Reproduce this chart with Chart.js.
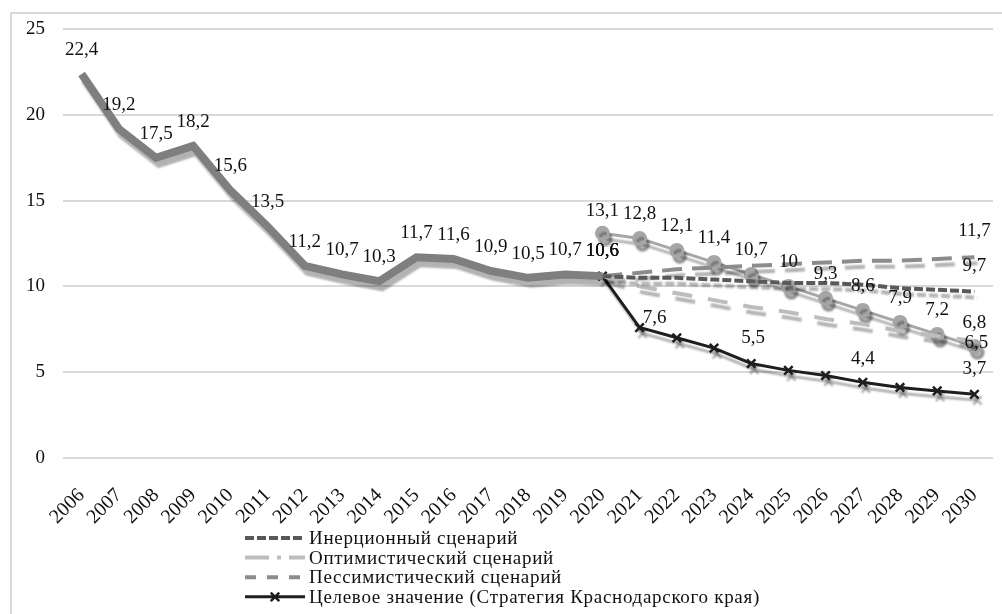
<!DOCTYPE html>
<html>
<head>
<meta charset="utf-8">
<script src="https://cdn.jsdelivr.net/npm/chart.js@4.4.1/dist/chart.umd.min.js"></script>
<style>
  html, body { margin: 0; padding: 0; background: #fff; }
  #wrap { position: relative; width: 1002px; height: 614px; overflow: hidden; }
  #frame { position: absolute; left: 10px; top: 12px; width: 1100px; height: 700px;
           border-left: 2px solid #d9d9d9; border-top: 2px solid #d9d9d9; }
  canvas { position: absolute; left: 0; top: 0; }
</style>
</head>
<body>
<div id="wrap">
  <div id="frame"></div>
  <canvas id="chart" width="1002" height="614"></canvas>
</div>
<script>
// Years on the x axis
const years = ['2006', '2007', '2008', '2009', '2010', '2011', '2012', '2013', '2014',
  '2015', '2016', '2017', '2018', '2019', '2020', '2021', '2022', '2023', '2024',
  '2025', '2026', '2027', '2028', '2029', '2030'];

// Actual values 2006–2020
const actual = [22.4, 19.2, 17.5, 18.2, 15.6, 13.5, 11.2, 10.7, 10.3, 11.7, 11.6, 10.9, 10.5, 10.7, 10.6];

// Forecasts 2020–2030
const inertial    = [10.6, 10.5, 10.5, 10.4, 10.3, 10.2, 10.2, 10.1, 9.9, 9.8, 9.7];
const optimistic  = [10.6, 10.0, 9.6, 9.2, 8.8, 8.5, 8.1, 7.8, 7.4, 7.1, 6.8];
const pessimistic = [10.6, 10.8, 11.0, 11.1, 11.2, 11.3, 11.4, 11.5, 11.5, 11.6, 11.7];
const target      = [10.6, 7.6, 7.0, 6.4, 5.5, 5.1, 4.8, 4.4, 4.1, 3.9, 3.7];
const trend       = [13.1, 12.8, 12.1, 11.4, 10.7, 10.0, 9.3, 8.6, 7.9, 7.2, 6.5];

const yTicks = [0, 5, 10, 15, 20, 25];

const legendNames = [
  'Инерционный сценарий',
  'Оптимистический сценарий',
  'Пессимистический сценарий',
  'Целевое значение (Стратегия Краснодарского края)',
];

const SERIF = '"Liberation Serif", "Times New Roman", serif';
const forecastStart = years.indexOf('2020');

// Place a short series onto the full year axis.
function onAxis(values, start) {
  const out = years.map(() => null);
  values.forEach((v, i) => { out[start + i] = v; });
  return out;
}

const fmt = (v) => String(v).replace('.', ',');

// Offset shadow under every line, as in the original.
const lineShadow = {
  id: 'lineShadow',
  beforeDatasetDraw(chart) {
    const ctx = chart.ctx;
    ctx.save();
    ctx.shadowColor = 'rgba(0, 0, 0, 0.3)';
    ctx.shadowBlur = 2;
    ctx.shadowOffsetX = 3;
    ctx.shadowOffsetY = 6;
  },
  afterDatasetDraw(chart) {
    chart.ctx.restore();
  },
};

// Value labels drawn above chosen points.
const valueLabels = {
  id: 'valueLabels',
  afterDatasetsDraw(chart) {
    const ctx = chart.ctx;
    ctx.save();
    ctx.fillStyle = '#111';
    ctx.textAlign = 'center';
    ctx.textBaseline = 'middle';
    ctx.font = '19px ' + SERIF;
    chart.data.datasets.forEach((ds, di) => {
      if (!ds.valueLabels) return;
      const meta = chart.getDatasetMeta(di);
      meta.data.forEach((pt, i) => {
        const v = ds.data[i];
        if (v == null) return;
        if (ds.valueLabels !== 'all' && !ds.valueLabels.includes(i)) return;
        const shift = (ds.labelShift && ds.labelShift[i]) || [0, -24];
        ctx.fillText(fmt(v), pt.x + shift[0], pt.y + shift[1]);
      });
    });
    ctx.restore();
  },
};

// Legend stacked in one column under the axis.
const stackedLegend = {
  id: 'stackedLegend',
  afterDraw(chart) {
    const ctx = chart.ctx;
    const items = chart.data.datasets.filter((ds) => ds.inLegend);
    items.forEach((ds, k) => {
      const y = 538 + k * 19.6;
      ctx.save();
      ctx.strokeStyle = ds.borderColor;
      ctx.fillStyle = ds.borderColor;
      ctx.lineWidth = ds.borderWidth;
      ctx.setLineDash(ds.legendDash || ds.borderDash || []);
      ctx.beginPath();
      ctx.moveTo(245, y);
      ctx.lineTo(305, y);
      ctx.stroke();
      ctx.setLineDash([]);
      if (ds.pointRadius) {
        ctx.lineWidth = ds.pointBorderWidth || 2;
        Chart.helpers.drawPoint(ctx, {
          pointStyle: ds.pointStyle, radius: ds.pointRadius, rotation: 0,
          borderWidth: ds.pointBorderWidth || 2,
        }, 275, y);
      }
      ctx.fillStyle = '#111';
      ctx.font = '19px ' + SERIF;
      ctx.letterSpacing = '0.7px';
      ctx.textBaseline = 'middle';
      ctx.fillText(ds.label, 309, y + 1);
      ctx.restore();
    });
  },
};

const ctx = document.getElementById('chart').getContext('2d');

new Chart(ctx, {
  type: 'line',
  data: {
    labels: years,
    datasets: [
      {
        label: 'Факт',
        data: onAxis(actual, 0),
        borderColor: '#7f7f7f',
        borderWidth: 8,
        pointRadius: 0,
        valueLabels: 'all',
        labelShift: { 14: [0, -25] },
      },
      {
        label: legendNames[0],
        data: onAxis(inertial, forecastStart),
        borderColor: '#595959',
        borderWidth: 4,
        borderDash: [9, 3],
        pointRadius: 0,
        inLegend: true,
        valueLabels: [forecastStart, 24],
        labelShift: { 14: [0, -25], 24: [0, -26] },
      },
      {
        label: legendNames[1],
        data: onAxis(optimistic, forecastStart),
        borderColor: '#bdbdbd',
        borderWidth: 4,
        borderDash: [20, 16],
        legendDash: [24, 8, 4, 8],
        pointRadius: 0,
        inLegend: true,
        valueLabels: [forecastStart, 24],
        labelShift: { 14: [0, -25], 24: [0, -18] },
      },
      {
        label: legendNames[2],
        data: onAxis(pessimistic, forecastStart),
        borderColor: '#8c8c8c',
        borderWidth: 4,
        borderDash: [20, 10],
        legendDash: [11, 11],
        pointRadius: 0,
        inLegend: true,
        valueLabels: [24],
        labelShift: { 24: [0, -26] },
      },
      {
        label: legendNames[3],
        data: onAxis(target, forecastStart),
        borderColor: '#1e1e1e',
        borderWidth: 3,
        pointStyle: 'crossRot',
        pointRadius: 6,
        pointBorderWidth: 2.5,
        pointBorderColor: '#1e1e1e',
        inLegend: true,
        valueLabels: [forecastStart + 1, forecastStart + 4, forecastStart + 7, 24],
        labelShift: { 15: [15, -10], 18: [2, -25], 21: [0, -23], 24: [0, -25] },
      },
      {
        label: 'Тренд',
        data: onAxis(trend, forecastStart),
        borderColor: '#a6a6a6',
        borderWidth: 3,
        pointStyle: 'circle',
        pointRadius: 6,
        pointBackgroundColor: '#a6a6a6',
        pointBorderColor: '#a6a6a6',
        valueLabels: 'all',
        labelShift: { 14: [0, -22], 24: [2, -3] },
      },
    ],
  },
  options: {
    responsive: false,
    animation: false,
    layout: { padding: { left: 20, top: 20, right: 6, bottom: 67 } },
    plugins: {
      legend: { display: false },
      tooltip: { enabled: false },
    },
    scales: {
      x: {
        offset: true,
        grid: { display: false },
        border: { display: false },
        afterFit: (s) => { s.paddingLeft = 0; s.paddingRight = 0; },
        ticks: {
          color: '#111',
          font: { family: SERIF, size: 20 },
          minRotation: 45,
          maxRotation: 45,
          autoSkip: false,
          padding: 18,
        },
      },
      y: {
        min: 0,
        max: 25,
        afterBuildTicks: (scale) => { scale.ticks = yTicks.map((v) => ({ value: v })); },
        afterFit: (s) => { s.width = 43; },
        grid: { color: '#d9d9d9', lineWidth: 2, drawTicks: false },
        border: { display: false },
        ticks: {
          color: '#111',
          font: { family: SERIF, size: 19 },
          padding: 18,
        },
      },
    },
  },
  plugins: [lineShadow, valueLabels, stackedLegend],
});
</script>
</body>
</html>
